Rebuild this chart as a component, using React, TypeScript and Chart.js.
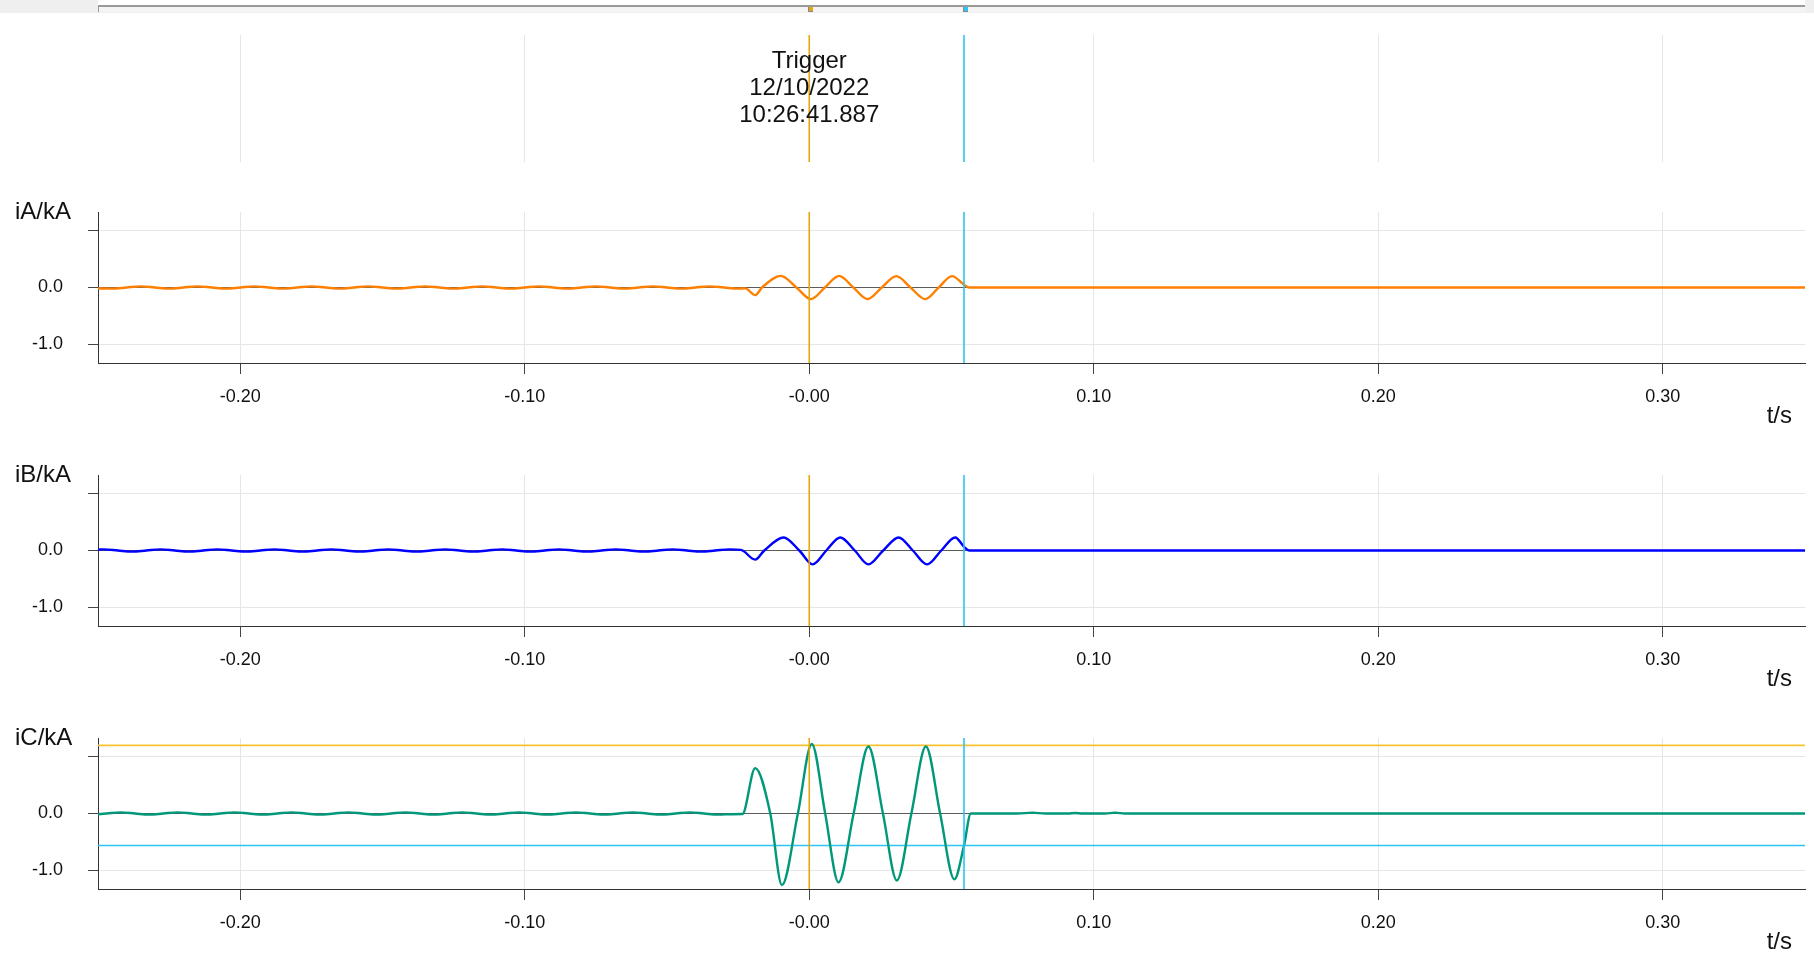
import React, { useEffect, useRef } from "react";
import { Chart, registerables } from "chart.js";

Chart.register(...registerables);

const FONT = "'Liberation Sans', Arial, Helvetica, sans-serif";

// ---- axis definitions ----
const X_MIN = -0.25;
const X_MAX = 0.35;
const X_TICKS = [-0.2, -0.1, 0, 0.1, 0.2, 0.3];
const X_TICK_LABELS = ["-0.20", "-0.10", "-0.00", "0.10", "0.20", "0.30"];
const X_TITLE = "t/s";
const Y_MIN = -1.33;
const Y_MAX = 1.33;
const Y_TICKS = [1, 0, -1];
const Y_TICK_LABELS = ["", "0.0", "-1.0"];
const PANEL_TITLES = ["iA/kA", "iB/kA", "iC/kA"];
const PANEL_COLORS = ["#FF8000", "#0000FF", "#009878"];

// ---- cursors ----
const CURSOR_T = [0, 0.0544]; // trigger cursor, second cursor (s)
const IC_AT_CURSORS = [1.2, -0.564]; // iC value read at the two cursors (kA)
const TRIGGER_TEXT = ["Trigger", "12/10/2022", "10:26:41.887"];

// ---- waveform samples [t (s), i (kA)] ----
const IA_SAMPLES: [number, number][] = [
  [-0.25, -0.018], [-0.245, -0.02], [-0.24, 0], [-0.235, 0.02], [-0.23, 0],
  [-0.225, -0.02], [-0.22, 0], [-0.215, 0.02], [-0.21, 0],
  [-0.205, -0.02], [-0.2, 0], [-0.195, 0.02], [-0.19, 0],
  [-0.185, -0.02], [-0.18, 0], [-0.175, 0.02], [-0.17, 0],
  [-0.165, -0.02], [-0.16, 0], [-0.155, 0.02], [-0.15, 0],
  [-0.145, -0.02], [-0.14, 0], [-0.135, 0.02], [-0.13, 0],
  [-0.125, -0.02], [-0.12, 0], [-0.115, 0.02], [-0.11, 0],
  [-0.105, -0.02], [-0.1, 0], [-0.095, 0.02], [-0.09, 0],
  [-0.085, -0.02], [-0.08, 0], [-0.075, 0.02], [-0.07, 0],
  [-0.065, -0.02], [-0.06, 0], [-0.055, 0.02], [-0.05, 0],
  [-0.045, -0.02], [-0.04, 0], [-0.035, 0.02], [-0.03, 0],
  [-0.025, -0.02], [-0.0225, -0.015],
  [-0.019, -0.135], [-0.0166, 0], [-0.01, 0.205], [-0.0045, 0],
  [0.0006, -0.205], [0.0055, 0], [0.0105, 0.205], [0.0155, 0],
  [0.0205, -0.205], [0.0255, 0], [0.0306, 0.2], [0.0356, 0],
  [0.0408, -0.205], [0.0455, 0], [0.0502, 0.2], [0.0544, 0.05],
  [0.0562, 0], [0.35, 0],
];

const IB_SAMPLES: [number, number][] = [
  [-0.25, 0.015], [-0.248, 0.02], [-0.243, 0], [-0.238, -0.02], [-0.233, 0],
  [-0.228, 0.02], [-0.223, 0], [-0.218, -0.02], [-0.213, 0],
  [-0.208, 0.02], [-0.203, 0], [-0.198, -0.02], [-0.193, 0],
  [-0.188, 0.02], [-0.183, 0], [-0.178, -0.02], [-0.173, 0],
  [-0.168, 0.02], [-0.163, 0], [-0.158, -0.02], [-0.153, 0],
  [-0.148, 0.02], [-0.143, 0], [-0.138, -0.02], [-0.133, 0],
  [-0.128, 0.02], [-0.123, 0], [-0.118, -0.02], [-0.113, 0],
  [-0.108, 0.02], [-0.103, 0], [-0.098, -0.02], [-0.093, 0],
  [-0.088, 0.02], [-0.083, 0], [-0.078, -0.02], [-0.073, 0],
  [-0.068, 0.02], [-0.063, 0], [-0.058, -0.02], [-0.053, 0],
  [-0.048, 0.02], [-0.043, 0], [-0.038, -0.02], [-0.033, 0],
  [-0.028, 0.02], [-0.024, 0.01],
  [-0.019, -0.16], [-0.0158, 0], [-0.009, 0.23], [-0.0035, 0],
  [0.0012, -0.245], [0.006, 0], [0.0109, 0.23], [0.016, 0],
  [0.0208, -0.245], [0.026, 0], [0.0314, 0.23], [0.0364, 0],
  [0.0414, -0.245], [0.0464, 0], [0.0513, 0.23], [0.0545, 0.06],
  [0.0562, 0], [0.35, 0],
];

const IC_SAMPLES: [number, number][] = [
  [-0.25, -0.012], [-0.247, 0], [-0.242, 0.02], [-0.237, 0], [-0.232, -0.02],
  [-0.227, 0], [-0.222, 0.02], [-0.217, 0], [-0.212, -0.02],
  [-0.207, 0], [-0.202, 0.02], [-0.197, 0], [-0.192, -0.02],
  [-0.187, 0], [-0.182, 0.02], [-0.177, 0], [-0.172, -0.02],
  [-0.167, 0], [-0.162, 0.02], [-0.157, 0], [-0.152, -0.02],
  [-0.147, 0], [-0.142, 0.02], [-0.137, 0], [-0.132, -0.02],
  [-0.127, 0], [-0.122, 0.02], [-0.117, 0], [-0.112, -0.02],
  [-0.107, 0], [-0.102, 0.02], [-0.097, 0], [-0.092, -0.02],
  [-0.087, 0], [-0.082, 0.02], [-0.077, 0], [-0.072, -0.02],
  [-0.067, 0], [-0.062, 0.02], [-0.057, 0], [-0.052, -0.02],
  [-0.047, 0], [-0.042, 0.02], [-0.037, 0], [-0.032, -0.02],
  [-0.027, -0.012], [-0.0235, -0.01],
  [-0.019, 0.8], [-0.0137, 0], [-0.0096, -1.26], [-0.004, 0],
  [0.0009, 1.225], [0.0056, 0], [0.0103, -1.21], [0.0156, 0],
  [0.0208, 1.18], [0.0259, 0], [0.0308, -1.18], [0.0359, 0],
  [0.041, 1.18], [0.046, 0], [0.051, -1.16], [0.0544, -0.564],
  [0.0568, 0], [0.073, 0], [0.0785, 0.015], [0.083, 0],
  [0.091, 0], [0.0935, 0.008], [0.096, 0], [0.104, 0],
  [0.1075, 0.015], [0.111, 0], [0.35, 0],
];

const SERIES = [IA_SAMPLES, IB_SAMPLES, IC_SAMPLES];

// ---- styles ----
const W = 1814;
const TRIG_H = 190;
const PANEL_H = 263;
const PANEL_TOP0 = 190;
const GOLD_V = "#E6A612";
const GOLD_H = "#F7C22E";
const CYAN = "#2CC4F4";
const GRID = "#e6e6e6";

Chart.defaults.font.family = FONT;

function xScaleOptions(showTicks: boolean, axisHeight: number) {
  return {
    type: "linear",
    min: X_MIN,
    max: X_MAX,
    afterBuildTicks: (s: any) => {
      s.ticks = X_TICKS.map((v) => ({ value: v }));
    },
    afterFit: (s: any) => {
      s.height = axisHeight;
      s.paddingLeft = 0;
      s.paddingRight = 0;
    },
    ticks: {
      display: showTicks,
      autoSkip: false,
      maxRotation: 0,
      padding: 12,
      color: "#111",
      font: { size: 18, family: FONT },
      callback: (_v: any, i: number) => X_TICK_LABELS[i],
    },
    grid: {
      color: GRID,
      lineWidth: 1,
      drawTicks: showTicks,
      tickLength: 11,
      tickColor: "#444",
    },
    border: { display: showTicks, color: "#333", width: 1 },
  };
}

const panelTextPlugin = {
  id: "panelText",
  afterDraw(chart: any, _args: any, opts: any) {
    const { ctx, chartArea } = chart;
    ctx.save();
    ctx.fillStyle = "#111";
    ctx.font = `24px ${FONT}`;
    ctx.textBaseline = "middle";
    ctx.textAlign = "left";
    ctx.fillText(opts.yTitle, 15, chartArea.top);
    ctx.textAlign = "right";
    ctx.fillText(X_TITLE, chartArea.right - 13, chartArea.bottom + 53);
    ctx.restore();
  },
};

const triggerPlugin = {
  id: "triggerDeco",
  beforeDraw(chart: any) {
    const { ctx, chartArea, scales } = chart;
    const l = chartArea.left;
    const r = chartArea.right;
    ctx.save();
    ctx.fillStyle = "#efefef";
    ctx.fillRect(0, 0, chart.width, 13);
    ctx.fillStyle = "#ffffff";
    ctx.fillRect(l, 0, r - l, 5);
    ctx.fillStyle = "#f4f4f4";
    ctx.fillRect(l, 7, r - l, 5);
    ctx.fillStyle = "#9a9a9a";
    ctx.fillRect(l, 5, r - l, 2);
    ctx.fillRect(l, 5, 1, 7);
    const markerColors = [GOLD_V, CYAN];
    CURSOR_T.forEach((t, i) => {
      const px = Math.round(scales.x.getPixelForValue(t));
      ctx.fillStyle = "#8a8a8a";
      ctx.fillRect(px - 1, 7, 5, 5);
      ctx.fillStyle = markerColors[i];
      ctx.fillRect(px, 7, 4, 4);
    });
    ctx.restore();
  },
  afterDatasetsDraw(chart: any) {
    const { ctx, chartArea, scales } = chart;
    const cx = scales.x.getPixelForValue(CURSOR_T[0]);
    ctx.save();
    ctx.fillStyle = "#111";
    ctx.font = `24px ${FONT}`;
    ctx.textAlign = "center";
    ctx.textBaseline = "middle";
    TRIGGER_TEXT.forEach((line, i) => {
      ctx.fillText(line, cx, chartArea.top + 26 + i * 27);
    });
    ctx.restore();
  },
};

function verticalCursor(t: number, color: string, yMin: number, yMax: number) {
  return {
    data: [
      { x: t, y: yMin },
      { x: t, y: yMax },
    ],
    borderColor: color,
    borderWidth: 1.6,
    pointRadius: 0,
    tension: 0,
  };
}

function horizontalCursor(v: number, color: string) {
  return {
    data: [
      { x: X_MIN, y: v },
      { x: X_MAX, y: v },
    ],
    borderColor: color,
    borderWidth: 1.6,
    pointRadius: 0,
    tension: 0,
  };
}

function triggerConfig(): any {
  const chartBottom = 162;
  return {
    type: "line",
    data: {
      datasets: [
        verticalCursor(CURSOR_T[0], GOLD_V, 0, 1),
        verticalCursor(CURSOR_T[1], CYAN, 0, 1),
      ],
    },
    options: {
      animation: false,
      responsive: false,
      devicePixelRatio: 1,
      layout: { padding: { left: 98, right: 9, top: 35, bottom: 0 } },
      plugins: { legend: { display: false }, tooltip: { enabled: false } },
      scales: {
        x: xScaleOptions(false, TRIG_H - chartBottom),
        y: { display: false, min: 0, max: 1 },
      },
    },
    plugins: [triggerPlugin],
  };
}

function panelConfig(idx: number): any {
  const topPad = 22;
  const areaH = 151;
  const datasets: any[] = [
    verticalCursor(CURSOR_T[0], GOLD_V, Y_MIN, Y_MAX),
    verticalCursor(CURSOR_T[1], CYAN, Y_MIN, Y_MAX),
    {
      data: SERIES[idx].map(([x, y]) => ({ x, y })),
      borderColor: PANEL_COLORS[idx],
      borderWidth: 2.4,
      pointRadius: 0,
      cubicInterpolationMode: "monotone",
    },
  ];
  if (idx === 2) {
    datasets.push(horizontalCursor(IC_AT_CURSORS[0], GOLD_H));
    datasets.push(horizontalCursor(IC_AT_CURSORS[1], CYAN));
  }
  return {
    type: "line",
    data: { datasets },
    options: {
      animation: false,
      responsive: false,
      devicePixelRatio: 1,
      layout: { padding: { left: 0, right: 9, top: topPad, bottom: 0 } },
      plugins: {
        legend: { display: false },
        tooltip: { enabled: false },
        panelText: { yTitle: PANEL_TITLES[idx] },
      },
      scales: {
        x: xScaleOptions(true, PANEL_H - topPad - areaH),
        y: {
          min: Y_MIN,
          max: Y_MAX,
          afterBuildTicks: (s: any) => {
            s.ticks = Y_TICKS.map((v) => ({ value: v }));
          },
          afterFit: (s: any) => {
            s.width = 98;
            s.paddingTop = 0;
            s.paddingBottom = 0;
          },
          ticks: {
            padding: 25,
            color: "#111",
            font: { size: 18, family: FONT },
            callback: (_v: any, i: number) => Y_TICK_LABELS[i],
          },
          grid: {
            color: (ctx: any) =>
              ctx.tick && ctx.tick.value === 0 ? "#5c5c5c" : GRID,
            lineWidth: 1,
            tickLength: 10,
            tickColor: "#444",
          },
          border: { color: "#333", width: 1 },
        },
      },
    },
    plugins: [panelTextPlugin],
  };
}

function ChartCanvas({
  top,
  height,
  makeConfig,
}: {
  top: number;
  height: number;
  makeConfig: () => any;
}) {
  const ref = useRef<HTMLCanvasElement>(null);
  useEffect(() => {
    const chart = new Chart(ref.current as HTMLCanvasElement, makeConfig());
    return () => chart.destroy();
  }, []);
  return (
    <canvas
      ref={ref}
      width={W}
      height={height}
      style={{
        position: "absolute",
        left: 0,
        top,
        width: W,
        height,
        display: "block",
      }}
    />
  );
}

export default function App() {
  return (
    <div
      style={{
        position: "fixed",
        left: 0,
        top: 0,
        width: W,
        height: 957,
        background: "#ffffff",
        overflow: "hidden",
      }}
    >
      <ChartCanvas top={0} height={TRIG_H} makeConfig={triggerConfig} />
      {[0, 1, 2].map((i) => (
        <ChartCanvas
          key={i}
          top={PANEL_TOP0 + i * PANEL_H}
          height={PANEL_H}
          makeConfig={() => panelConfig(i)}
        />
      ))}
    </div>
  );
}
